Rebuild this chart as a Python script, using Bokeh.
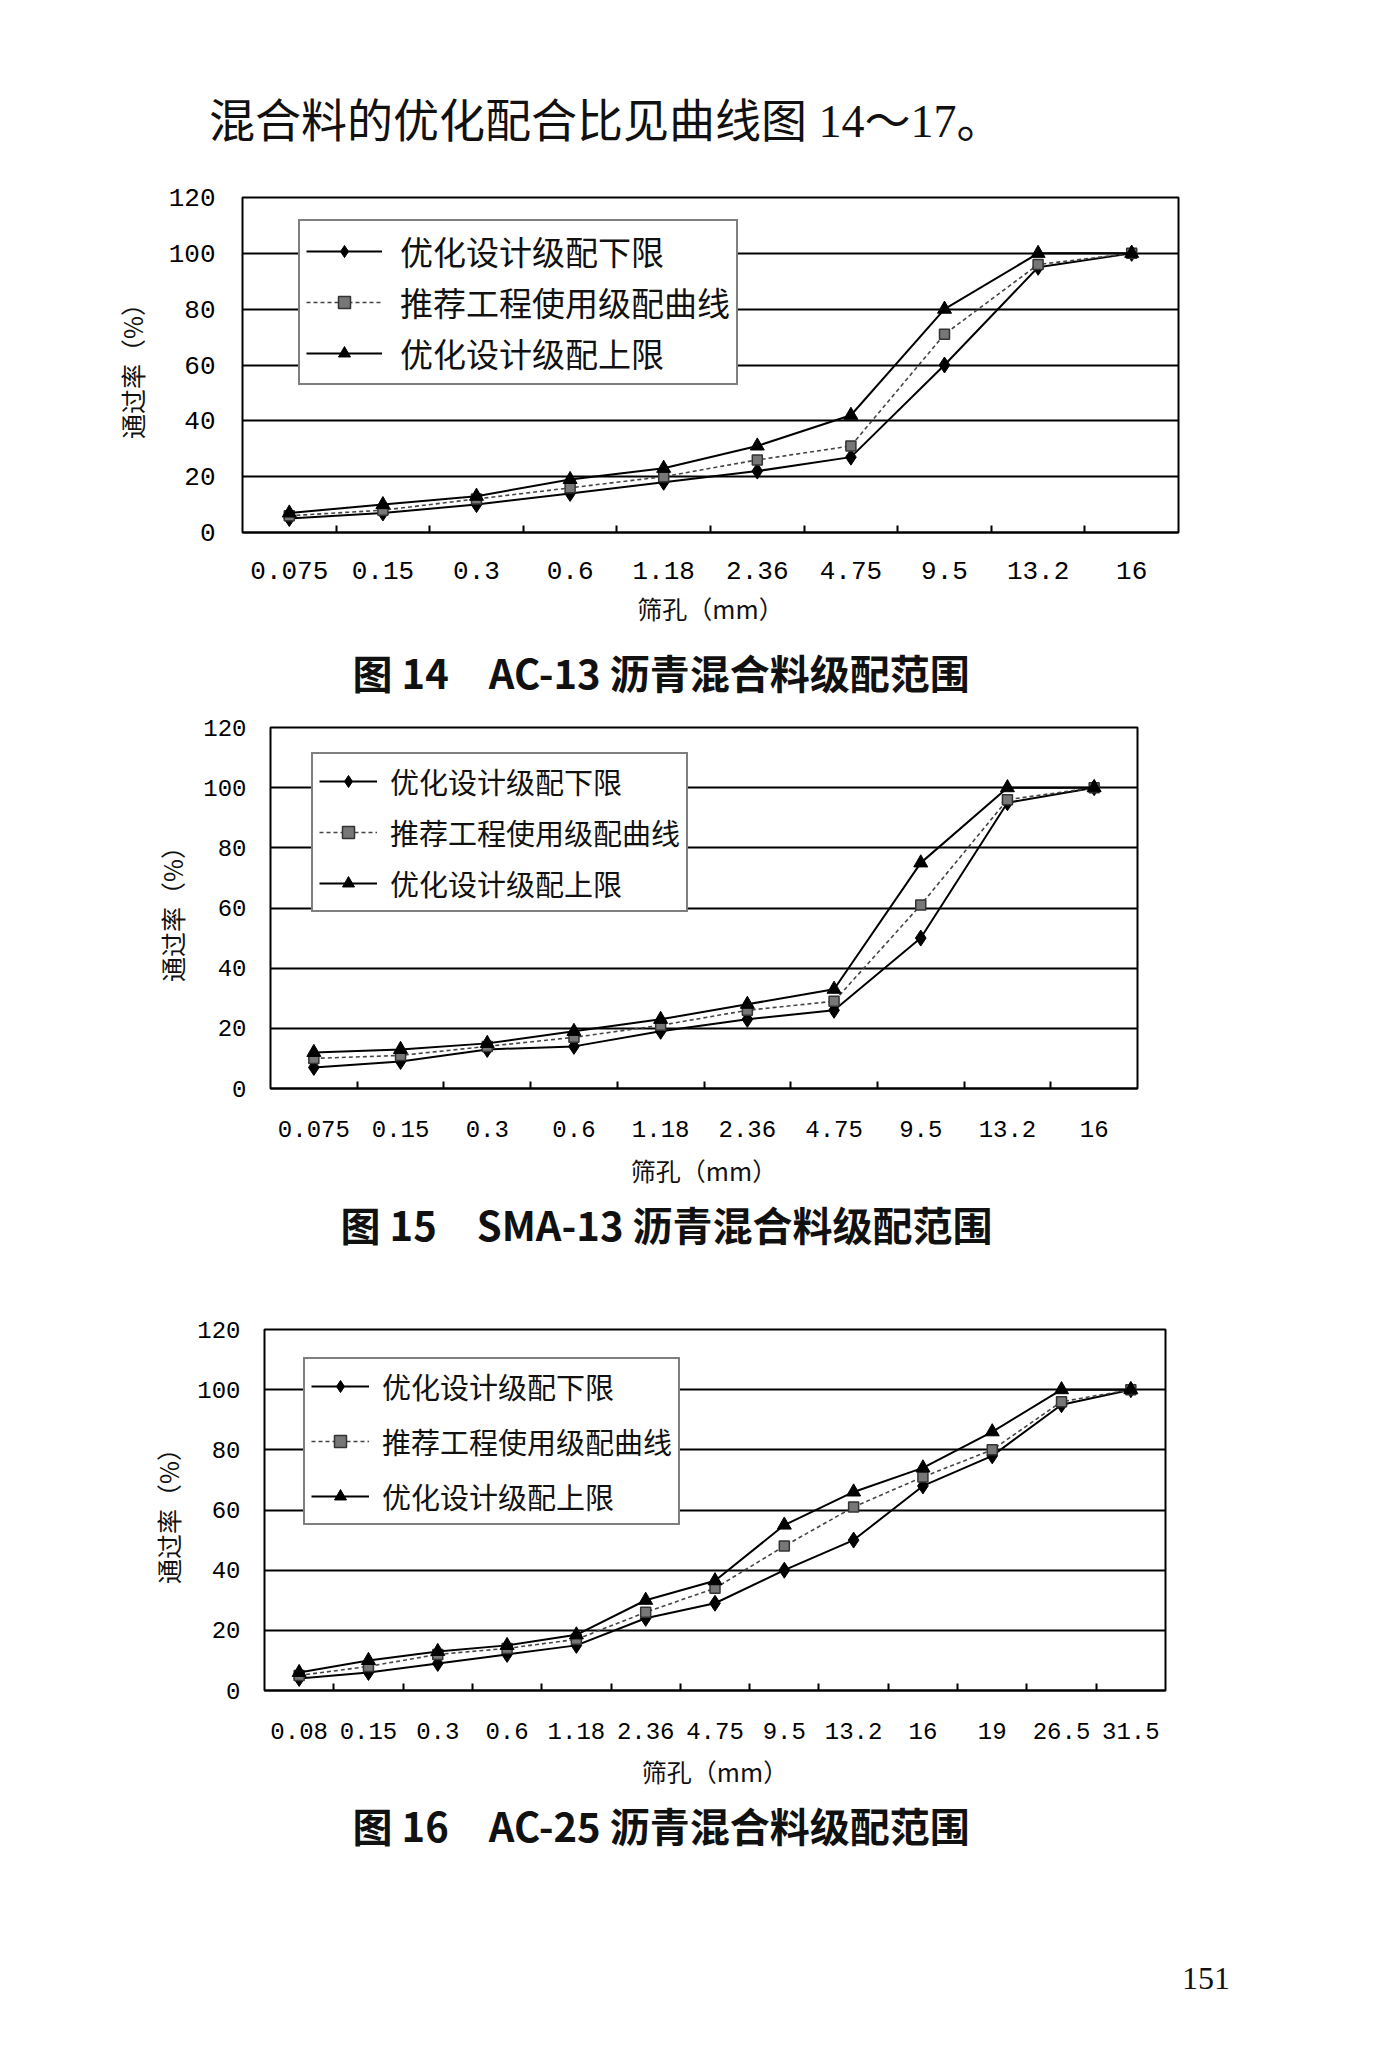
from bokeh.plotting import figure
from bokeh.models import Range1d, FixedTicker, Legend, LegendItem, Title, Div
from bokeh.layouts import column, row
from bokeh.embed import file_html
from bokeh.resources import INLINE

# ---------------- data ----------------
series_names = ["优化设计级配下限", "推荐工程使用级配曲线", "优化设计级配上限"]

ac13_sieves = ["0.075", "0.15", "0.3", "0.6", "1.18", "2.36", "4.75", "9.5", "13.2", "16"]
ac13_lower = [5, 7, 10, 14, 18, 22, 27, 60, 95, 100]
ac13_mid = [6, 8, 12, 16, 20, 26, 31, 71, 96, 100]
ac13_upper = [7, 10, 13, 19, 23, 31, 42, 80, 100, 100]

sma13_sieves = ["0.075", "0.15", "0.3", "0.6", "1.18", "2.36", "4.75", "9.5", "13.2", "16"]
sma13_lower = [7, 9, 13, 14, 19, 23, 26, 50, 95, 100]
sma13_mid = [10, 11, 14, 17, 21, 26, 29, 61, 96, 100]
sma13_upper = [12, 13, 15, 19, 23, 28, 33, 75, 100, 100]

ac25_sieves = ["0.08", "0.15", "0.3", "0.6", "1.18", "2.36", "4.75", "9.5", "13.2", "16", "19", "26.5", "31.5"]
ac25_lower = [4, 6, 9, 12, 15, 24, 29, 40, 50, 68, 78, 95, 100]
ac25_mid = [5, 8, 12, 14, 17, 26, 34, 48, 61, 71, 80, 96, 100]
ac25_upper = [6, 10, 13, 15, 18.5, 30, 36.5, 55, 66, 74, 86, 100, 100]

y_ticks = [0, 20, 40, 60, 80, 100, 120]

captions = [
    "图 14\u3000AC-13 沥青混合料级配范围",
    "图 15\u3000SMA-13 沥青混合料级配范围",
    "图 16\u3000AC-25 沥青混合料级配范围",
]
x_title = "筛孔（mm）"
y_title = "通过率（%）"
intro_text = "混合料的优化配合比见曲线图 14～17。"
page_number = "151"

CJK = "Noto Sans CJK SC"
MONO = "Liberation Mono"


def make_chart(sieves, lower, mid, upper, caption, cfg):
    n = len(sieves)
    xs = list(range(1, n + 1))
    p = figure(width=1400, height=cfg["h"],
               x_range=Range1d(0.5, n + 0.5), y_range=Range1d(0, 120),
               output_backend="svg", toolbar_location=None,
               min_border_left=cfg["left"], min_border_right=cfg["right"],
               min_border_top=cfg["top"], min_border_bottom=cfg["bottom"],
               background_fill_color="white", border_fill_color="white")
    p.outline_line_color = "black"
    p.outline_line_width = 2

    p.xgrid.visible = False
    p.ygrid.ticker = FixedTicker(ticks=[20, 40, 60, 80, 100])
    p.ygrid.grid_line_color = "black"
    p.ygrid.grid_line_width = 2

    xa = p.xaxis[0]
    xa.ticker = FixedTicker(ticks=xs, minor_ticks=[i + 0.5 for i in range(1, n)])
    xa.major_label_overrides = {x: s for x, s in zip(xs, sieves)}
    xa.major_tick_line_color = None
    xa.major_tick_in = 0
    xa.major_tick_out = 0
    xa.minor_tick_in = 7
    xa.minor_tick_out = 0
    xa.minor_tick_line_color = "black"
    xa.minor_tick_line_width = 2
    xa.axis_line_color = "black"
    xa.axis_line_width = 2
    xa.major_label_text_font = MONO
    xa.major_label_text_font_size = cfg["tick_fs"]
    xa.major_label_text_color = "black"
    xa.major_label_standoff = cfg["xlab_standoff"]
    xa.axis_label = x_title
    xa.axis_label_text_font = CJK
    xa.axis_label_text_font_style = "normal"
    xa.axis_label_text_font_size = "25px"
    xa.axis_label_text_color = "#111111"
    xa.axis_label_standoff = cfg["xtitle_standoff"]

    ya = p.yaxis[0]
    ya.ticker = FixedTicker(ticks=y_ticks)
    ya.major_tick_line_color = None
    ya.minor_tick_line_color = None
    ya.major_tick_in = 0
    ya.major_tick_out = 0
    ya.axis_line_color = None
    ya.major_label_text_font = MONO
    ya.major_label_text_font_size = cfg["tick_fs"]
    ya.major_label_text_color = "black"
    ya.major_label_standoff = cfg["ylab_standoff"]
    ya.axis_label = y_title
    ya.axis_label_text_font = CJK
    ya.axis_label_text_font_style = "normal"
    ya.axis_label_text_font_size = "25px"
    ya.axis_label_text_color = "#111111"
    ya.axis_label_standoff = cfg["ytitle_standoff"]

    l1 = p.line(xs, lower, line_color="black", line_width=2)
    s1 = p.scatter(xs, lower, marker="diamond", size=16, fill_color="black", line_color="black")
    l2 = p.line(xs, mid, line_color="#444444", line_width=1.6, line_dash="4 3")
    s2 = p.scatter(xs, mid, marker="square", size=10, fill_color="#777777", line_color="#333333", line_width=1.5)
    l3 = p.line(xs, upper, line_color="black", line_width=2)
    s3 = p.scatter(xs, upper, marker="triangle", size=14, fill_color="black", line_color="black")

    legend = Legend(items=[
        LegendItem(label=series_names[0], renderers=[l1, s1]),
        LegendItem(label=series_names[1], renderers=[l2, s2]),
        LegendItem(label=series_names[2], renderers=[l3, s3]),
    ], location=cfg["leg_loc"], orientation="vertical")
    legend.margin = 0
    legend.padding = cfg["leg_pad"]
    legend.spacing = cfg["leg_spacing"]
    legend.glyph_width = cfg["leg_gw"]
    legend.glyph_height = 30
    legend.label_height = 30
    legend.label_standoff = cfg["leg_standoff"]
    legend.label_text_font = CJK
    legend.label_text_font_size = cfg["leg_fs"]
    legend.label_text_color = "#111111"
    legend.border_line_color = "black"
    legend.border_line_width = 2.5
    legend.background_fill_color = "white"
    legend.background_fill_alpha = 1
    p.add_layout(legend)

    t = Title(text=caption, align="left", offset=cfg["cap_offset"],
              text_font=CJK, text_font_size="40px", text_font_style="bold",
              text_color="#111111", standoff=cfg["cap_standoff"])
    p.add_layout(t, "below")
    return p


# page positions: chart1 canvas 160-712, chart2 712-1256, chart3 1256-1870
cfg1 = dict(h=552, left=242, right=222, top=37, bottom=180, tick_fs="26px",
            xlab_standoff=29, xtitle_standoff=8, ylab_standoff=27, ytitle_standoff=16,
            leg_loc=(56, 147), leg_pad=6, leg_spacing=3, leg_gw=76,
            leg_standoff=18, leg_fs="33px", cap_offset=110, cap_standoff=24)
cfg2 = dict(h=544, left=270, right=263, top=15, bottom=168, tick_fs="24px",
            xlab_standoff=32, xtitle_standoff=12, ylab_standoff=24, ytitle_standoff=10,
            leg_loc=(41, 176), leg_pad=6, leg_spacing=9, leg_gw=58,
            leg_standoff=13, leg_fs="29px", cap_offset=70, cap_standoff=4)
cfg3 = dict(h=614, left=264, right=235, top=73, bottom=180, tick_fs="24px",
            xlab_standoff=32, xtitle_standoff=11, ylab_standoff=24, ytitle_standoff=8,
            leg_loc=(39, 165), leg_pad=6, leg_spacing=13, leg_gw=58,
            leg_standoff=13, leg_fs="29px", cap_offset=88, cap_standoff=4)

p1 = make_chart(ac13_sieves, ac13_lower, ac13_mid, ac13_upper, captions[0], cfg1)
p2 = make_chart(sma13_sieves, sma13_lower, sma13_mid, sma13_upper, captions[1], cfg2)
p3 = make_chart(ac25_sieves, ac25_lower, ac25_mid, ac25_upper, captions[2], cfg3)

top_div = Div(
    text=('<div style="padding-left:209px;padding-top:94px;font-size:46px;line-height:1.2;'
          "font-family:'Liberation Serif','Noto Sans CJK SC';color:#111;white-space:nowrap\">"
          + intro_text + "</div>"),
    width=1400, height=160, margin=(0, 0, 0, 0))
bottom_div = Div(
    text=('<div style="padding-left:1182px;padding-top:89px;font-size:32px;line-height:1.2;'
          "font-family:'Liberation Serif';color:#111;white-space:nowrap\">"
          + page_number + "</div>"),
    width=1400, height=178, margin=(0, 0, 0, 0))

layout = column(top_div, row(p1), row(p2), row(p3), bottom_div, spacing=0)

with open("out.html", "w") as f:
    f.write(file_html(layout, INLINE))
